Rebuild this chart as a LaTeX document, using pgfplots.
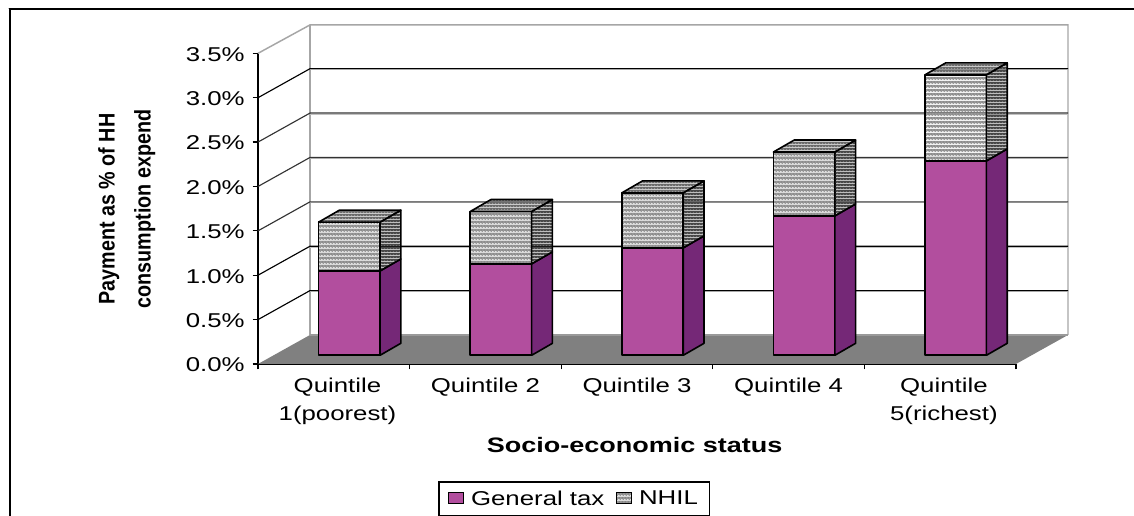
\documentclass[border=0pt]{standalone}
\usepackage{pgfplots}
\pgfplotsset{compat=1.18}
\usepackage{fontspec}
\usetikzlibrary{patterns}
\setmainfont[FakeStretch=1.29]{Liberation Sans}
\newfontfamily\plainfont{Liberation Sans}
\definecolor{taxfront}{HTML}{B24E9E}
\definecolor{taxside}{HTML}{752877}
\definecolor{floorgray}{HTML}{808080}
\definecolor{wallgray}{HTML}{A6A6A6}
\pgfdeclarepatterninherentlycolored{nhilfront}{\pgfpointorigin}{\pgfpoint{2.25pt}{3pt}}{\pgfpoint{2.25pt}{3pt}}{%
  \definecolor{a}{HTML}{989898}\pgfsetfillcolor{a}\pgfpathrectangle{\pgfpointorigin}{\pgfpoint{2.25pt}{3pt}}\pgfusepath{fill}%
  \definecolor{c}{HTML}{E4E4E4}\pgfsetfillcolor{c}\pgfpathrectangle{\pgfpoint{0pt}{0pt}}{\pgfpoint{1.5pt}{0.75pt}}\pgfusepath{fill}%
  \definecolor{b}{HTML}{686868}\pgfsetfillcolor{b}\pgfpathrectangle{\pgfpoint{0.75pt}{1.5pt}}{\pgfpoint{0.75pt}{0.75pt}}\pgfusepath{fill}}
\pgfdeclarepatterninherentlycolored{nhilside}{\pgfpointorigin}{\pgfpoint{2.25pt}{2.25pt}}{\pgfpoint{2.25pt}{2.25pt}}{%
  \definecolor{a}{HTML}{484848}\pgfsetfillcolor{a}\pgfpathrectangle{\pgfpointorigin}{\pgfpoint{2.25pt}{2.25pt}}\pgfusepath{fill}%
  \definecolor{b}{HTML}{707070}\pgfsetfillcolor{b}\pgfpathrectangle{\pgfpoint{0pt}{0pt}}{\pgfpoint{0.9pt}{0.9pt}}\pgfusepath{fill}}
\pgfdeclarepatterninherentlycolored{nhiltop}{\pgfpointorigin}{\pgfpoint{2.25pt}{2.25pt}}{\pgfpoint{2.25pt}{2.25pt}}{%
  \definecolor{a}{HTML}{6A6A6A}\pgfsetfillcolor{a}\pgfpathrectangle{\pgfpointorigin}{\pgfpoint{2.25pt}{2.25pt}}\pgfusepath{fill}%
  \definecolor{b}{HTML}{9C9C9C}\pgfsetfillcolor{b}\pgfpathrectangle{\pgfpoint{0pt}{0pt}}{\pgfpoint{1.1pt}{1.1pt}}\pgfusepath{fill}}
% one stacked segment: category, lower value, upper value, styles of its faces
\newcommand\segment[5]{%
  \pgfmathsetmacro\xa{#1-0.1}\pgfmathsetmacro\xb{#1+0.305}\pgfmathsetmacro\xc{#1+0.442}%
  \pgfmathsetmacro\ya{#2+0.098}\pgfmathsetmacro\yb{#3+0.098}%
  \pgfmathsetmacro\yc{#2+0.233}\pgfmathsetmacro\yd{#3+0.233}%
  \edef\doit{\noexpand\addplot[forget plot,draw=black,line width=1.2pt,line join=round,#4] coordinates {(\xa,\ya)(\xb,\ya)(\xb,\yb)(\xa,\yb)} -- cycle;
  \noexpand\addplot[forget plot,draw=black,line width=1.2pt,line join=round,#5] coordinates {(\xb,\ya)(\xc,\yc)(\xc,\yd)(\xb,\yb)} -- cycle;}\doit}
\newcommand\topface[2]{%
  \pgfmathsetmacro\xa{#1-0.1}\pgfmathsetmacro\xb{#1+0.305}\pgfmathsetmacro\xc{#1+0.442}\pgfmathsetmacro\xd{#1+0.037}%
  \pgfmathsetmacro\yb{#2+0.098}\pgfmathsetmacro\yd{#2+0.233}%
  \edef\doit{\noexpand\addplot[forget plot,draw=black,line width=1.2pt,line join=round,pattern=nhiltop] coordinates {(\xa,\yb)(\xb,\yb)(\xc,\yd)(\xd,\yd)} -- cycle;}\doit}
\begin{document}
\begin{tikzpicture}[x=0.75pt,y=0.75pt]
\useasboundingbox (0,0) rectangle (1134,516);
\fill[white] (0,0) rectangle (1134,516);
\draw[wallgray!70,line width=0.75pt] (8,507.5) -- (1134,507.5);
\draw[black,line width=1.5pt] (9.5,0) -- (9.5,506.5) -- (1134,506.5);
\begin{axis}[
  at={(193.5pt,114pt)},anchor=south west,
  scale only axis,width=568.5pt,height=233pt,
  xmin=0.5,xmax=5.5,ymin=0,ymax=3.5,clip=false,
  axis lines=left,axis line style={-,black,line width=1.1pt},
  tick align=outside,
  xtick={1,2,3,4,5},
  xticklabels={{\hspace*{5.5pt}Quintile\\\hspace*{5.5pt}1(poorest)},Quintile 2,Quintile 3,Quintile 4,{\hspace*{5.5pt}Quintile\\\hspace*{5.5pt}5(richest)}},
  major x tick style={draw=none},
  minor xtick={0.5,1.5,2.5,3.5,4.5,5.5},
  minor x tick style={black,line width=0.9pt},
  minor tick length=4pt,
  ytick={0,0.5,1,1.5,2,2.5,3,3.5},
  yticklabels={0.0\%,0.5\%,1.0\%,1.5\%,2.0\%,2.5\%,3.0\%,3.5\%},
  y tick style={black,line width=0.9pt},
  major tick length=4pt,
  tick label style={font=\fontsize{15}{21}\selectfont},
  xticklabel style={align=center,anchor=north,yshift=-3pt},
  yticklabel style={anchor=east,xshift=-2.5pt,yshift=-0.7pt},
  xlabel={\bfseries Socio-economic status},
  xlabel style={font=\fontsize{15.7}{17}\selectfont,at={(axis description cs:0.497,-0.26)},anchor=center},
  ylabel={\scalebox{0.87}[1]{Payment as \% of HH}\\\scalebox{0.87}[1]{consumption expend}},
  ylabel style={font=\plainfont\bfseries\fontsize{17}{27}\selectfont,at={(axis description cs:-0.173,0.499)},anchor=center,align=center},
  legend columns=2,
  legend style={at={(axis description cs:0.4175,-0.378)},anchor=north,draw=black,line width=0.9pt,font=\fontsize{15}{17}\selectfont,inner xsep=7pt,inner ysep=4.5pt,/tikz/every even column/.append style={column sep=7pt}},
  legend image code/.code={\draw[#1,line width=0.7pt] (0cm,-0.13cm) rectangle (0.38cm,0.17cm);},
]
% walls and floor
\addplot[forget plot,draw=none,fill=floorgray] coordinates {(0.5,0)(5.5,0)(5.843,0.327)(0.843,0.327)} -- cycle;
\addplot[forget plot,wallgray,line width=1.1pt] coordinates {(0.5,3.5)(0.843,3.82)(5.843,3.82)(5.843,0.327)};
\addplot[forget plot,wallgray,line width=1.1pt] coordinates {(0.843,3.82)(0.843,0.327)};
\addplot[forget plot,floorgray!80,line width=1.1pt] coordinates {(0.843,0.327)(5.843,0.327)};
% gridlines: soft grey shadow, then the line
\addplot[forget plot,wallgray!70,line width=0.7pt] coordinates {(0.843,0.815)(5.843,0.815)};
\addplot[forget plot,wallgray!70,line width=0.7pt] coordinates {(0.843,1.315)(5.843,1.315)};
\addplot[forget plot,wallgray!70,line width=0.7pt] coordinates {(0.843,1.815)(5.843,1.815)};
\addplot[forget plot,wallgray!70,line width=0.7pt] coordinates {(0.843,2.315)(5.843,2.315)};
\addplot[forget plot,wallgray!70,line width=0.7pt] coordinates {(0.843,2.815)(5.843,2.815)};
\addplot[forget plot,wallgray!70,line width=0.7pt] coordinates {(0.843,3.315)(5.843,3.315)};
\addplot[forget plot,black,line width=0.85pt] coordinates {(0.5,0.5)(0.843,0.827)(5.843,0.827)};
\addplot[forget plot,black,line width=0.85pt] coordinates {(0.5,1.0)(0.843,1.327)(5.843,1.327)};
\addplot[forget plot,black!80,line width=0.85pt] coordinates {(0.5,1.5)(0.843,1.827)(5.843,1.827)};
\addplot[forget plot,black!80,line width=0.85pt] coordinates {(0.5,2.0)(0.843,2.327)(5.843,2.327)};
\addplot[forget plot,black!80,line width=0.85pt] coordinates {(0.5,2.5)(0.843,2.827)(5.843,2.827)};
\addplot[forget plot,black,line width=0.85pt] coordinates {(0.5,3.0)(0.843,3.327)(5.843,3.327)};
% bars
\segment{1}{0}{0.95}{fill=taxfront}{fill=taxside}
\segment{1}{0.95}{1.50}{pattern=nhilfront}{pattern=nhilside}
\topface{1}{1.50}
\segment{2}{0}{1.03}{fill=taxfront}{fill=taxside}
\segment{2}{1.03}{1.62}{pattern=nhilfront}{pattern=nhilside}
\topface{2}{1.62}
\segment{3}{0}{1.21}{fill=taxfront}{fill=taxside}
\segment{3}{1.21}{1.83}{pattern=nhilfront}{pattern=nhilside}
\topface{3}{1.83}
\segment{4}{0}{1.57}{fill=taxfront}{fill=taxside}
\segment{4}{1.57}{2.29}{pattern=nhilfront}{pattern=nhilside}
\topface{4}{2.29}
\segment{5}{0}{2.19}{fill=taxfront}{fill=taxside}
\segment{5}{2.19}{3.16}{pattern=nhilfront}{pattern=nhilside}
\topface{5}{3.16}
\addlegendimage{fill=taxfront,draw=black}
\addlegendentry{\hspace*{3.5pt}General tax}
\addlegendimage{pattern=nhilfront,draw=black}
\addlegendentry{\hspace*{3.5pt}NHIL}
\end{axis}
\end{tikzpicture}
\end{document}
